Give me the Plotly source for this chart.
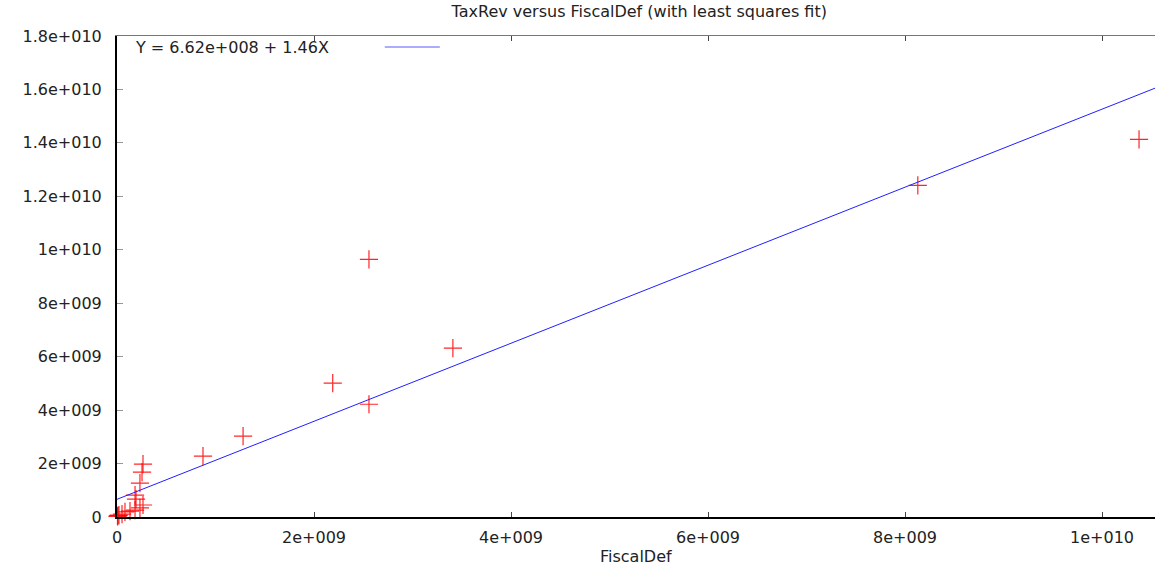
import plotly.graph_objects as go

# Data
fiscal_def = [1.0376e10, 8.13e9, 2.558e9, 3.41e9, 2.19e9, 2.558e9, 1.28e9, 8.73e8,
              2.64e8, 2.54e8, 2.33e8, 1.83e8, 1.93e8, 2.64e8, 2.33e8, 1.83e8,
              1.32e8, 8.1e7, 5.1e7, 2.0e7, 1.0e7, 5.0e6]
tax_rev = [1.413e10, 1.241e10, 9.64e9, 6.32e9, 5.01e9, 4.22e9, 3.03e9, 2.28e9,
           1.98e9, 1.68e9, 1.27e9, 8.2e8, 6.7e8, 4.5e8, 3.4e8, 2.6e8,
           2.2e8, 1.9e8, 1.1e8, 7.0e7, 5.0e7, 2.0e7]
fit_intercept = 6.62e8
fit_slope = 1.46
x_max = 1.0538e10

x_tickvals = [0, 2e9, 4e9, 6e9, 8e9, 1e10]
x_ticktext = ["0", "2e+009", "4e+009", "6e+009", "8e+009", "1e+010"]
y_tickvals = [0, 2e9, 4e9, 6e9, 8e9, 1e10, 1.2e10, 1.4e10, 1.6e10, 1.8e10]
y_ticktext = ["0", "2e+009", "4e+009", "6e+009", "8e+009", "1e+010",
              "1.2e+010", "1.4e+010", "1.6e+010", "1.8e+010"]

FONT = "DejaVu Sans"
FS = 16
fit_x = [0, x_max]
fit_y = [fit_intercept + fit_slope * v for v in fit_x]

fig = go.Figure()
fig.add_trace(go.Scatter(
    x=fiscal_def, y=tax_rev, mode="markers",
    marker=dict(symbol="cross-thin", size=13, line=dict(color="rgba(255,0,0,0.85)", width=1.2)),
    showlegend=False, cliponaxis=False,
))
fig.add_trace(go.Scatter(
    x=fit_x, y=fit_y, mode="lines",
    line=dict(color="#2020ff", width=1), showlegend=False,
))
fig.add_trace(go.Scatter(x=[None], y=[None], xaxis="x2", showlegend=False))

fig.update_layout(
    width=1156, height=565,
    margin=dict(l=117, r=1, t=36, b=48, autoexpand=False),
    paper_bgcolor="white", plot_bgcolor="white",
    font=dict(family=FONT, size=FS, color="#222"),
    title=dict(text="TaxRev versus FiscalDef (with least squares fit)",
               x=0.553, xanchor="center", y=0.979, yanchor="middle",
               font=dict(family=FONT, size=FS, color="#222")),
    xaxis=dict(range=[0, x_max], tickvals=x_tickvals, ticktext=x_ticktext,
               showgrid=False, zeroline=False, showline=True, linecolor="black",
               linewidth=2, ticks="inside", ticklen=5, tickcolor="#444",
               ticklabelstandoff=5, automargin=False),
    xaxis2=dict(range=[0, x_max], overlaying="x", side="top", tickvals=x_tickvals,
                showticklabels=False, showgrid=False, zeroline=False, showline=True,
                linecolor="#777", linewidth=1, ticks="inside", ticklen=5, tickcolor="#444"),
    yaxis=dict(range=[0, 1.8e10], tickvals=y_tickvals, ticktext=y_ticktext,
               showgrid=False, zeroline=False, showline=True, linecolor="black",
               linewidth=2, ticks="inside", ticklen=6, tickcolor="#999",
               ticklabelstandoff=10, automargin=False),
)
fig.add_annotation(xref="paper", yref="paper", x=0.5, y=-0.083, xanchor="center",
                   yanchor="middle", showarrow=False,
                   text="FiscalDef", font=dict(family=FONT, size=FS, color="#222"))
fig.add_annotation(xref="paper", yref="paper", x=0.0154, y=0.977, xanchor="left",
                   yanchor="middle", showarrow=False,
                   text="Y = 6.62e+008 + 1.46X", font=dict(family=FONT, size=FS, color="#222"))
fig.add_shape(type="line", xref="paper", yref="paper", x0=0.258, x1=0.311,
              y0=0.977, y1=0.977, line=dict(color="#9090ff", width=1.5))

fig.write_html("out.html")
